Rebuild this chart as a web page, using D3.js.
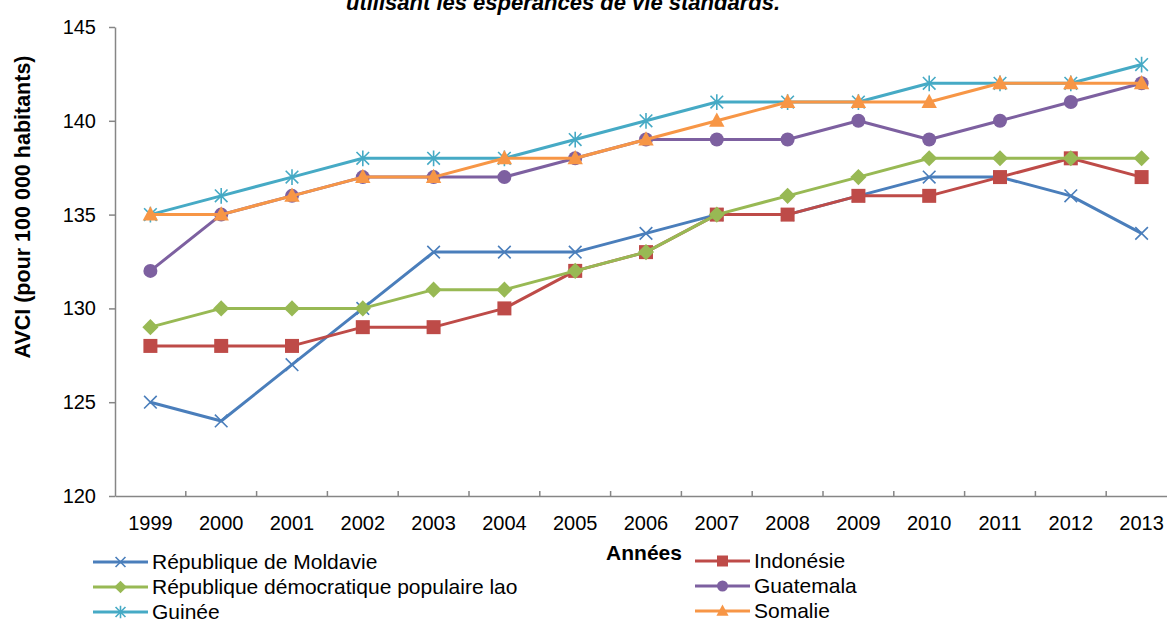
<!DOCTYPE html>
<html>
<head>
<meta charset="utf-8">
<script src="https://cdn.jsdelivr.net/npm/d3@7/dist/d3.min.js"></script>
<style>
  body { margin: 0; background: #fff; }
  svg { display: block; font-family: "Liberation Sans", Arial, sans-serif; }
</style>
</head>
<body>
<svg id="chart" width="1167" height="621"></svg>
<script>
// data
let years = [1999, 2000, 2001, 2002, 2003, 2004, 2005, 2006, 2007, 2008, 2009, 2010, 2011, 2012, 2013];
let moldavie  = [125, 124, 127, 130, 133, 133, 133, 134, 135, 135, 136, 137, 137, 136, 134];
let indonesie = [128, 128, 128, 129, 129, 130, 132, 133, 135, 135, 136, 136, 137, 138, 137];
let lao       = [129, 130, 130, 130, 131, 131, 132, 133, 135, 136, 137, 138, 138, 138, 138];
let guatemala = [132, 135, 136, 137, 137, 137, 138, 139, 139, 139, 140, 139, 140, 141, 142];
let guinee    = [135, 136, 137, 138, 138, 138, 139, 140, 141, 141, 141, 142, 142, 142, 143];
let somalie   = [135, 135, 136, 137, 137, 138, 138, 139, 140, 141, 141, 141, 142, 142, 142];
let seriesNames = ["République de Moldavie", "Indonésie", "République démocratique populaire lao",
                   "Guatemala", "Guinée", "Somalie"];
let yTicks = [120, 125, 130, 135, 140, 145];

let seriesValues = [moldavie, indonesie, lao, guatemala, guinee, somalie];
let colors = ["#4a7ebb", "#be4b48", "#98b954", "#7d60a0", "#46aac5", "#f79646"];
let shapes = ["x", "square", "diamond", "circle", "star", "triangle"];

let svg = d3.select("#chart");
let axisColor = "#868686";

let x = d3.scaleBand().domain(years).range([115, 1177]);
let y = d3.scaleLinear().domain([120, 145]).range([496, 27]);
let cx = d => x(d) + x.bandwidth() / 2;

// marker path, s = half size
function markerPath(shape, s) {
    let p = d3.path();
    if (shape === "x") {
        p.moveTo(-s, -s); p.lineTo(s, s);
        p.moveTo(-s, s); p.lineTo(s, -s);
    } else if (shape === "star") {
        p.moveTo(-s, -s); p.lineTo(s, s);
        p.moveTo(-s, s); p.lineTo(s, -s);
        p.moveTo(0, -s * 1.25); p.lineTo(0, s * 1.25);
    } else if (shape === "square") {
        p.rect(-s, -s, 2 * s, 2 * s);
    } else if (shape === "diamond") {
        p.moveTo(0, -s * 1.15); p.lineTo(s * 1.15, 0); p.lineTo(0, s * 1.15); p.lineTo(-s * 1.15, 0); p.closePath();
    } else if (shape === "circle") {
        p.arc(0, 0, s, 0, 2 * Math.PI);
    } else if (shape === "triangle") {
        p.moveTo(0, -s * 1.2); p.lineTo(s * 1.1, s * 0.85); p.lineTo(-s * 1.1, s * 0.85); p.closePath();
    }
    return p.toString();
}

function drawMarker(g, shape, color, s) {
    let open = shape === "x" || shape === "star";
    g.append("path")
        .attr("d", markerPath(shape, open ? s * 0.9 : s))
        .attr("fill", open ? "none" : color)
        .attr("stroke", color)
        .attr("stroke-width", open ? 1.6 : 0);
}

// title (cut at the top like the reference)
svg.append("text")
    .attr("x", 563).attr("y", 10)
    .attr("text-anchor", "middle")
    .attr("font-size", 22).attr("font-weight", "bold").attr("font-style", "italic")
    .text("utilisant les espérances de vie standards.");

// y axis
let yAxis = svg.append("g")
    .attr("transform", "translate(115,0)")
    .call(d3.axisLeft(y).tickValues(yTicks).tickSize(6).tickPadding(13).tickSizeOuter(0));
yAxis.select(".domain").attr("stroke", axisColor).attr("stroke-width", 1.5);
yAxis.selectAll(".tick line").attr("stroke", axisColor).attr("stroke-width", 1.5);
yAxis.selectAll("text").attr("font-size", 20).attr("fill", "#000")
    .attr("font-family", "Liberation Sans, Arial, sans-serif");

svg.append("text")
    .attr("transform", "translate(30,207) rotate(-90)")
    .attr("text-anchor", "middle")
    .attr("font-size", 21.5).attr("font-weight", "bold")
    .text("AVCI (pour 100 000 habitants)");

// x axis
let xAxis = svg.append("g")
    .attr("transform", "translate(0,496)")
    .call(d3.axisBottom(x).tickSize(0).tickPadding(20).tickSizeOuter(0));
xAxis.select(".domain").attr("stroke", axisColor).attr("stroke-width", 1.5);
xAxis.selectAll("text").attr("font-size", 20).attr("fill", "#000")
    .attr("font-family", "Liberation Sans, Arial, sans-serif");

let bounds = years.map(d => x(d)).concat([x.range()[1]]);
svg.append("g").selectAll("line")
    .data(bounds.slice(1))
    .join("line")
    .attr("x1", d => d).attr("x2", d => d)
    .attr("y1", 496).attr("y2", 491)
    .attr("stroke", axisColor).attr("stroke-width", 1.5);

svg.append("text")
    .attr("x", 644).attr("y", 560)
    .attr("text-anchor", "middle")
    .attr("font-size", 21).attr("font-weight", "bold")
    .text("Années");

// series
let line = d3.line()
    .x((d, i) => cx(years[i]))
    .y(d => y(d));

seriesValues.forEach((vals, k) => {
    let g = svg.append("g");
    g.append("path")
        .attr("d", line(vals))
        .attr("fill", "none")
        .attr("stroke", colors[k])
        .attr("stroke-width", 3)
        .attr("stroke-linejoin", "round");
    g.selectAll("g.pt")
        .data(vals)
        .join("g")
        .attr("class", "pt")
        .attr("transform", (d, i) => `translate(${cx(years[i])},${y(d)})`)
        .each(function () { drawMarker(d3.select(this), shapes[k], colors[k], 7); });
});

// legend
let legendPos = [
    [93, 562], [695, 561],
    [93, 587], [695, 586],
    [93, 612], [695, 611]
];
seriesNames.forEach((name, k) => {
    let [lx, ly] = legendPos[k];
    let g = svg.append("g").attr("transform", `translate(${lx},${ly})`);
    g.append("line")
        .attr("x1", 0).attr("x2", 55)
        .attr("stroke", colors[k]).attr("stroke-width", 3);
    let m = g.append("g").attr("transform", "translate(27.5,0)");
    drawMarker(m, shapes[k], colors[k], 5.5);
    g.append("text")
        .attr("x", 59).attr("y", 7)
        .attr("font-size", 21)
        .text(name);
});
</script>
</body>
</html>
